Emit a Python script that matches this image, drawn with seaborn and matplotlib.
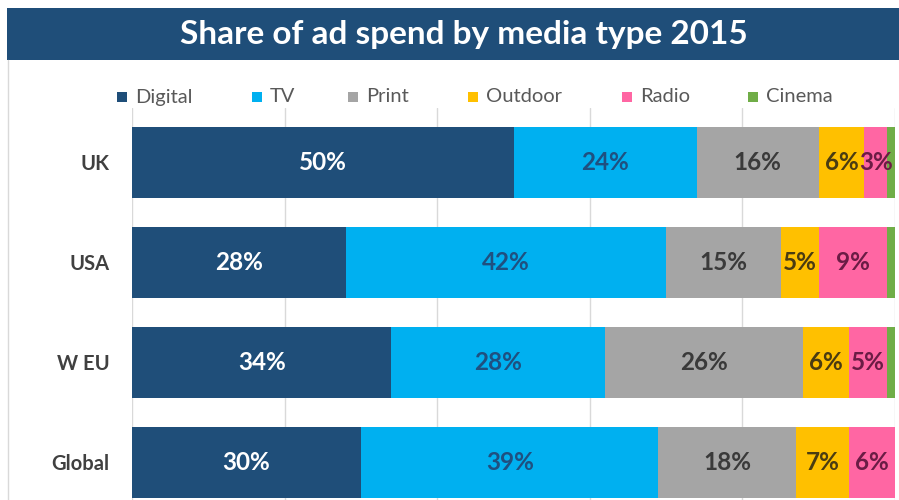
import matplotlib
matplotlib.use("Agg")
import matplotlib.pyplot as plt
import seaborn as sns
import numpy as np
import pandas as pd
from matplotlib.patches import Rectangle
from matplotlib.lines import Line2D

# ---- data -------------------------------------------------------------
regions = ["UK", "USA", "W EU", "Global"]
media = ["Digital", "TV", "Print", "Outdoor", "Radio", "Cinema"]
digital = [50, 28, 34, 30]
tv = [24, 42, 28, 39]
print_ = [16, 15, 26, 18]
outdoor = [6, 5, 6, 7]
radio = [3, 9, 5, 6]
cinema = [1, 1, 1, 0.5]
title = "Share of ad spend by media type 2015"

# ---- styling ----------------------------------------------------------
bar_colors = ["#1F4E79", "#00B0F0", "#A5A5A5", "#FFC000", "#FF66A3", "#70AD47"]
text_colors = ["#FFFFFF", "#1F5080", "#3A3A3A", "#4A3C12", "#6B1C45", None]

sns.set_theme(style="white")
plt.rcParams["font.family"] = ["Lato", "DejaVu Sans"]

W, H = 899, 500
fig = plt.figure(figsize=(W / 100, H / 100), dpi=100)
fig.patch.set_facecolor("white")

ax = fig.add_axes([132 / W, 0, 763 / W, 392 / H])

values = np.array([digital, tv, print_, outdoor, radio, cinema], dtype=float)
cum = values.cumsum(axis=0)

# stacked bars: draw cumulative totals from the widest down
for k in range(len(media) - 1, -1, -1):
    df = pd.DataFrame({"region": regions, "total": cum[k]})
    sns.barplot(data=df, x="total", y="region", orient="h", color=bar_colors[k],
                saturation=1, width=0.71, linewidth=0, ax=ax, zorder=2)

# segment value labels
for k in range(len(media) - 1):
    for i, r in enumerate(regions):
        v = values[k, i]
        start = cum[k, i] - v
        ax.text(start + v / 2, i, f"{v:g}%", ha="center", va="center",
                fontsize=17.5, fontweight="bold", color=text_colors[k], zorder=3)

ax.set_xlim(0, 100)
ax.set_ylim(3.38, -0.54)
ax.set_xticks([0, 20, 40, 60, 80, 100])
ax.set_xticklabels([])
ax.grid(axis="x", color="#D9D9D9", linewidth=1)
ax.grid(axis="y", visible=False)
ax.set_axisbelow(True)
for s in ax.spines.values():
    s.set_visible(False)
ax.set_xlabel("")
ax.set_ylabel("")
ax.tick_params(axis="y", length=0, pad=16, labelsize=14.5, labelcolor="#404040")
ax.tick_params(axis="x", length=0)
for lab in ax.get_yticklabels():
    lab.set_fontweight("bold")

# title banner
fig.add_artist(Rectangle((7 / W, 1 - 60 / H), 1 - 7 / W, 52 / H,
                         transform=fig.transFigure, facecolor="#1F4E79",
                         edgecolor="none", zorder=0))
fig.text(464 / W, 1 - 34 / H, title, ha="center", va="center", color="white",
         fontsize=24, fontweight="bold")

# left frame line
fig.add_artist(Line2D([7.5 / W, 7.5 / W], [0, 1 - 60 / H], transform=fig.transFigure,
                      color="#D9D9D9", linewidth=1))

# legend row
marker_x = [117, 252, 348, 468, 622, 748]
for name, col, mx in zip(media, bar_colors, marker_x):
    fig.add_artist(Rectangle((mx / W, 1 - 102 / H), 10 / W, 10 / H,
                             transform=fig.transFigure, facecolor=col,
                             edgecolor="none"))
    fig.text((mx + 18) / W, 1 - 97 / H, name, ha="left", va="center",
             fontsize=14.5, color="#595959")

fig.savefig("out.png", dpi=100, facecolor="white")
